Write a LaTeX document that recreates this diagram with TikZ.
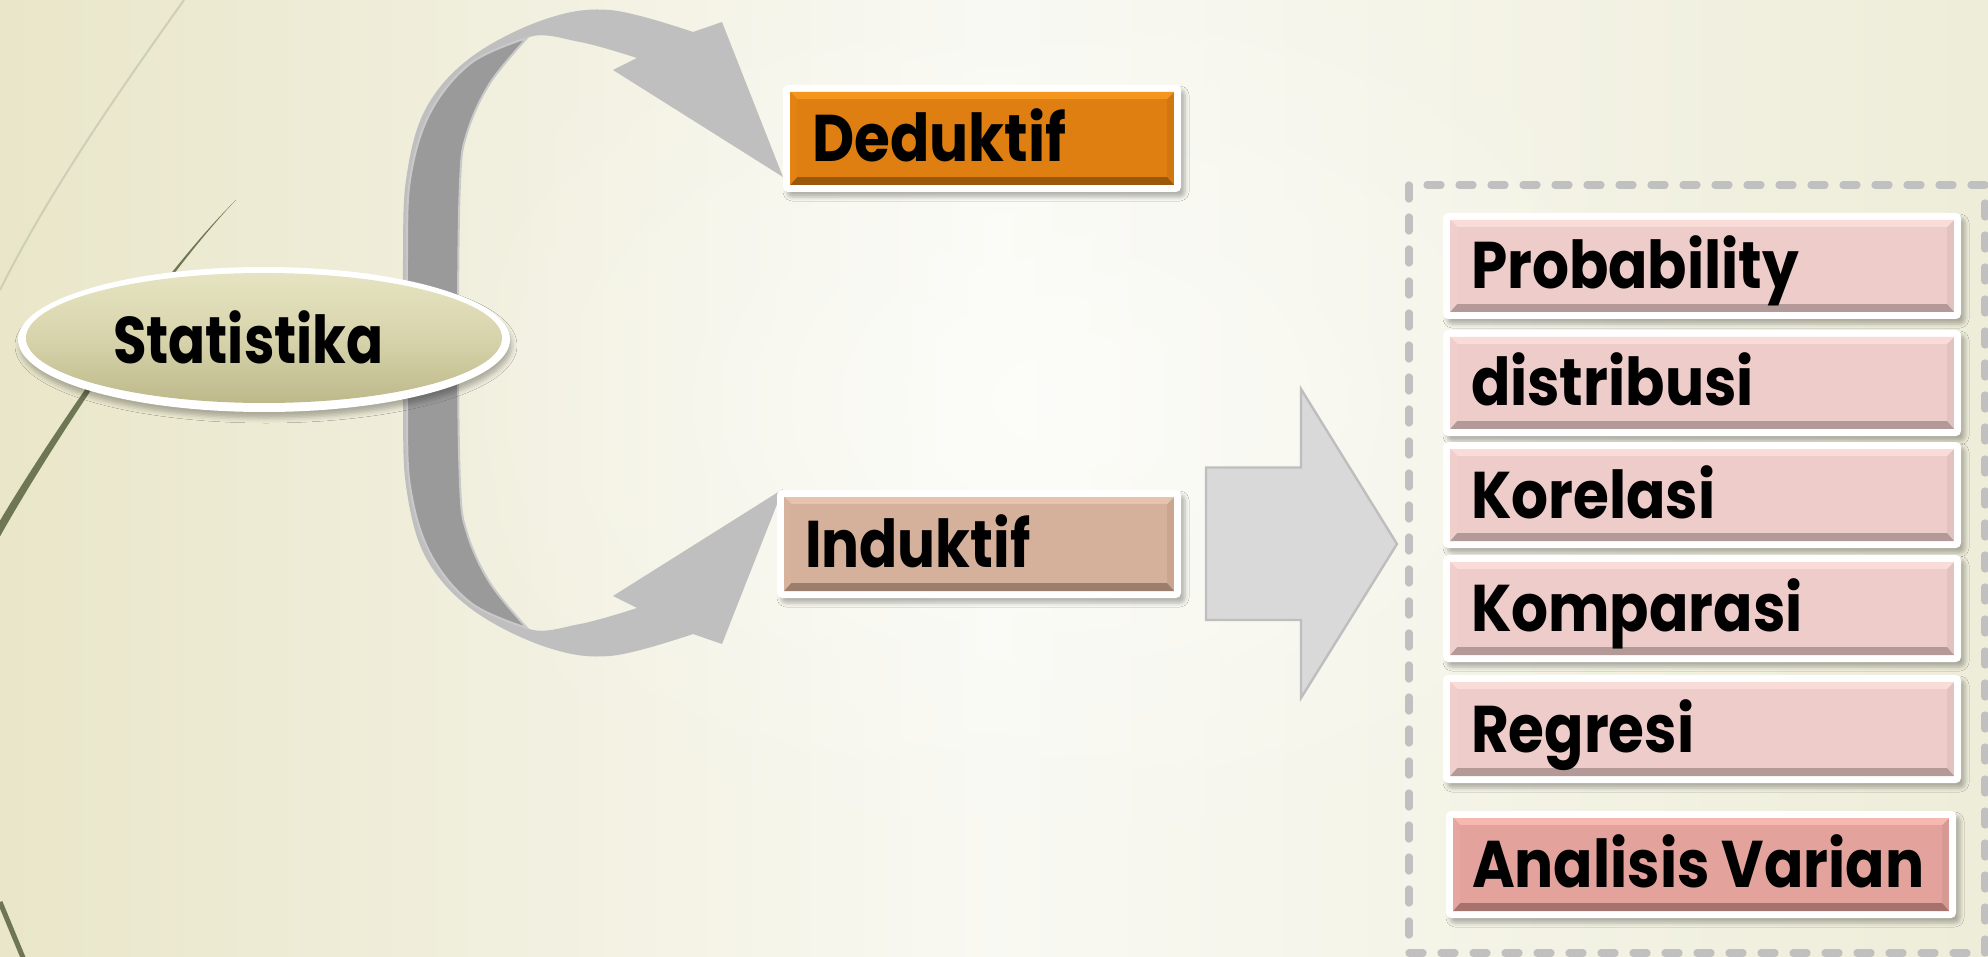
\documentclass[tikz,border=0pt]{standalone}
\usepackage{fontspec}
\newfontfamily\gfont{Poppins}[FakeStretch=0.88]
\usetikzlibrary{shapes.geometric,shadows.blur,fadings}
\tikzfading[name=softglow, inner color=transparent!0, outer color=transparent!100]
\definecolor{bgL}{HTML}{E9E6C9}
\definecolor{bgM}{HTML}{F9F9F3}
\definecolor{bgR}{HTML}{EEEDD9}
\definecolor{wispdark}{HTML}{6E7654}
\definecolor{wisplight}{HTML}{CDD0B5}
\definecolor{ribbonlight}{HTML}{BFBFBF}
\definecolor{ribbondark}{HTML}{9A9A9A}
\definecolor{ribbonedge}{HTML}{C9C9C9}
\definecolor{ellTop}{HTML}{E6E3C2}
\definecolor{ellMid}{HTML}{D7D4AC}
\definecolor{ellBot}{HTML}{BDB98A}
\definecolor{orFace}{HTML}{DF7F12}
\definecolor{orLight}{HTML}{F4961E}
\definecolor{orDark}{HTML}{9A580C}
\definecolor{tanFace}{HTML}{D5B09A}
\definecolor{tanLight}{HTML}{E6C3AD}
\definecolor{tanDark}{HTML}{9C7E6E}
\definecolor{pkFace}{HTML}{EECCCA}
\definecolor{pkLight}{HTML}{F9DCD8}
\definecolor{pkDark}{HTML}{B39A98}
\definecolor{avFace}{HTML}{E3A39C}
\definecolor{avLight}{HTML}{F6B8AF}
\definecolor{avDark}{HTML}{A5726D}
\definecolor{arrowfill}{HTML}{D9D9D9}
\definecolor{arrowedge}{HTML}{BEBEBE}
\definecolor{dashgrey}{HTML}{C0C0C0}
\newcommand\bevelface[4]{%
  \path ([shift={(7,7)}]#1.north west) coordinate (#1nw)
        ([shift={(-7,7)}]#1.north east) coordinate (#1ne)
        ([shift={(-7,-7)}]#1.south east) coordinate (#1se)
        ([shift={(7,-7)}]#1.south west) coordinate (#1sw);
  \fill[#2!80!#4] (#1nw) rectangle (#1se);
  \fill[#3] (#1nw) -- (#1ne) -- ([shift={(-7,7)}]#1ne) -- ([shift={(7,7)}]#1nw) -- cycle;
  \fill[#4] (#1sw) -- (#1se) -- ([shift={(-7,-8)}]#1se) -- ([shift={(7,-8)}]#1sw) -- cycle;
  \fill[#2!85!#3] (#1nw) -- ([shift={(7,7)}]#1nw) -- ([shift={(7,-8)}]#1sw) -- (#1sw) -- cycle;
  \fill[#2] ([shift={(7,7)}]#1nw) rectangle ([shift={(-7,-8)}]#1se);
}
\begin{document}
\begin{tikzpicture}[x=0.5pt,y=-0.5pt,
  boxframe/.style={rectangle, fill=white, rounded corners=2.5pt, inner sep=0pt, outer sep=0pt,
    blur shadow={shadow xshift=2pt, shadow yshift=-2.5pt, shadow blur radius=2pt, shadow opacity=28}},
  boxtext/.style={font=\gfont\fontsize{33}{38}\selectfont\bfseries, inner sep=0pt, outer sep=0pt, text=black},
  dashbox/.style={draw=dashgrey, line width=3.6pt, line cap=round, dash pattern=on 7pt off 9pt}]
\useasboundingbox (0,0) rectangle (1988,957);
% background
\shade[left color=bgL, right color=bgR, middle color=bgM] (0,0) rectangle (1988,957);
\fill[white, path fading=softglow, opacity=0.55] (1050,400) ellipse (650 and 480);
% wisp lines
\draw[wisplight, line width=1pt] (184,0) .. controls (120,90) and (50,190) .. (0,290);
\fill[wispdark] (236,200) .. controls (160,274) and (45,444) .. (-2,524) -- (-2,540) .. controls (48,450) and (162,277) .. (236,200) -- cycle;
\draw[wispdark, line width=2.5pt] (0,902) -- (24,960);
% ribbon (curved double arrow)
\fill[ribbonlight] (783,177) -- (722,22) -- (693,32)
  -- plot[smooth, tension=0.6] coordinates {(693,32) (610,10) (543,20) (470,58) (425,110) (406,180) (403,260) (403,333) (403,406) (406,486) (425,556) (470,608) (543,646) (610,656) (693,634)}
  -- (722,644) -- (783,489) -- (613,596) -- (637,608)
  -- plot[smooth, tension=0.6] coordinates {(637,608) (580,624) (527,628) (490,583) (467,533) (460,483) (458,333) (460,183) (467,133) (490,83) (527,38) (580,42) (637,58)}
  -- (613,70) -- cycle;
\filldraw[fill=ribbondark, draw=ribbonedge, line width=1pt]
  plot[smooth, tension=0.6] coordinates {(527,38) (471,63) (430,113) (410,180) (407,260) (407,333) (407,406) (410,486) (430,553) (471,603) (527,628)}
  -- plot[smooth, tension=0.6] coordinates {(527,628) (490,583) (467,533) (460,483) (458,333) (460,183) (467,133) (490,83) (527,38)} -- cycle;
% Statistika ellipse
\node[ellipse, fill=white, minimum width=246pt, minimum height=72.5pt, inner sep=0pt,
  blur shadow={shadow xshift=1pt, shadow yshift=-3pt, shadow blur radius=2.5pt, shadow opacity=28}] (stat) at (264,339.5) {};
\node[ellipse, top color=ellTop, bottom color=ellBot, middle color=ellMid, minimum width=238pt, minimum height=65pt, inner sep=0pt] (statin) at (264,338) {};
\node[boxtext, anchor=base west] (stat-l) at (113,364) {\scalebox{0.94}[1]{Statistika}};
% Deduktif / Induktif
\node[boxframe, minimum width=199pt, minimum height=53.5pt] (ded) at (982,138.5) {};
\bevelface{ded}{orFace}{orLight}{orDark}
\node[boxtext, anchor=base west] (ded-l) at ([shift={(29,23)}]ded.west) {Deduktif};
\node[boxframe, minimum width=202pt, minimum height=54pt] (ind) at (979,544) {};
\bevelface{ind}{tanFace}{tanLight}{tanDark}
\node[boxtext, anchor=base west] (ind-l) at ([shift={(28,23)}]ind.west) {\scalebox{0.97}[1]{Induktif}};
% block arrow
\filldraw[fill=arrowfill, draw=arrowedge, line width=1.2pt, line join=miter]
  (1206,467.5) -- (1301,467.5) -- (1301,389) -- (1397,544) -- (1301,698) -- (1301,620) -- (1206,620) -- cycle;
% dashed container
\draw[dashbox] (1409,185) rectangle (1985,953);
% list boxes
\node[boxframe, minimum width=259pt, minimum height=53pt] (prob) at (1702,266) {};
\bevelface{prob}{pkFace}{pkLight}{pkDark}
\node[boxtext, anchor=base west] (prob-l) at ([shift={(28,23)}]prob.west) {Probability};
\node[boxframe, minimum width=259pt, minimum height=53pt] (dist) at (1702,383) {};
\bevelface{dist}{pkFace}{pkLight}{pkDark}
\node[boxtext, anchor=base west] (dist-l) at ([shift={(28,23)}]dist.west) {distribusi};
\node[boxframe, minimum width=259pt, minimum height=53pt] (kor) at (1702,495) {};
\bevelface{kor}{pkFace}{pkLight}{pkDark}
\node[boxtext, anchor=base west] (kor-l) at ([shift={(28,23)}]kor.west) {Korelasi};
\node[boxframe, minimum width=259pt, minimum height=53.5pt] (komp) at (1702,608.5) {};
\bevelface{komp}{pkFace}{pkLight}{pkDark}
\node[boxtext, anchor=base west] (komp-l) at ([shift={(28,23)}]komp.west) {Komparasi};
\node[boxframe, minimum width=259pt, minimum height=54pt] (reg) at (1702,729) {};
\bevelface{reg}{pkFace}{pkLight}{pkDark}
\node[boxtext, anchor=base west] (reg-l) at ([shift={(28,23)}]reg.west) {Regresi};
\node[boxframe, minimum width=255pt, minimum height=53.5pt] (anv) at (1701,864.5) {};
\bevelface{anv}{avFace}{avLight}{avDark}
\node[boxtext, anchor=base west] (anv-l) at ([shift={(26,23)}]anv.west) {Analisis Varian};
\end{tikzpicture}
\end{document}
